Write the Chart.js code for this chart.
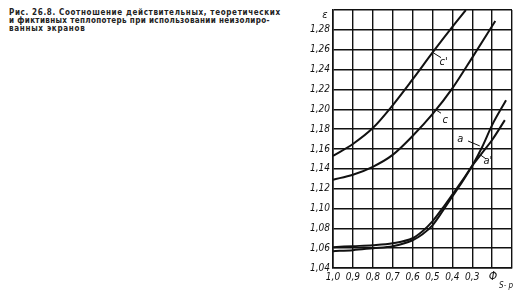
<!DOCTYPE html>
<html>
<head>
<meta charset="utf-8">
<script src="https://cdn.jsdelivr.net/npm/chart.js@4.4.1/dist/chart.umd.min.js"></script>
<style>
  html, body { margin: 0; padding: 0; background: #fff; }
  body { width: 522px; height: 292px; position: relative; overflow: hidden; }
  #caption {
    position: absolute; left: 9px; top: 9px; width: 290px;
    font: bold 8px 'DejaVu Sans Condensed', 'DejaVu Sans', sans-serif;
    line-height: 8px; color: #222; white-space: nowrap;
  }
  #caption div { display: block; }
  #wrap { position: absolute; left: 290px; top: 0; width: 232px; height: 292px; }
</style>
</head>
<body>
<div id="caption">
  <div style="letter-spacing:0.65px">Рис. 26.8. Соотношение действительных, теоретических</div>
  <div style="letter-spacing:0.35px">и фиктивных теплопотерь при использовании неизолиро-</div>
  <div style="letter-spacing:0.7px">ванных экранов</div>
</div>
<div id="wrap"><canvas id="chart"></canvas></div>
<script>
// x axis: Φ(S-p), runs from 1,0 on the left to 0,1 on the right
const xTicks = [1.0, 0.9, 0.8, 0.7, 0.6, 0.5, 0.4, 0.3, 0.2, 0.1];
const yTicks = [1.04, 1.06, 1.08, 1.10, 1.12, 1.14, 1.16, 1.18, 1.20, 1.22, 1.24, 1.26, 1.28, 1.30];

// curve c'
const phiC1 = [1.0, 0.9, 0.8, 0.7, 0.6, 0.5, 0.4, 0.332];
const epsC1 = [1.153, 1.165, 1.181, 1.204, 1.230, 1.257, 1.283, 1.300];
// curve c
const phiC = [1.0, 0.9, 0.8, 0.7, 0.6, 0.5, 0.4, 0.3, 0.184];
const epsC = [1.129, 1.134, 1.142, 1.154, 1.173, 1.195, 1.221, 1.252, 1.289];
// curve a
const phiA = [1.0, 0.9, 0.8, 0.7, 0.6, 0.55, 0.5, 0.45, 0.4, 0.35, 0.3, 0.25, 0.2, 0.13];
const epsA = [1.057, 1.058, 1.060, 1.062, 1.068, 1.074, 1.083, 1.097, 1.112, 1.127, 1.143, 1.162, 1.184, 1.209];
// curve a'
const phiA1 = [1.0, 0.9, 0.8, 0.7, 0.6, 0.55, 0.5, 0.45, 0.4, 0.35, 0.3, 0.25, 0.2, 0.136];
const epsA1 = [1.061, 1.062, 1.063, 1.065, 1.070, 1.077, 1.087, 1.100, 1.114, 1.128, 1.143, 1.156, 1.169, 1.189];

// curve labels with leader lines, in data units: [text, label x, label y, leader from x/y, leader to x/y]
const curveLabels = [
  ["c'", 0.444, 1.247, 0.497, 1.257, 0.457, 1.252],
  ['c',  0.436, 1.189, 0.488, 1.200, 0.457, 1.196],
  ['a',  0.360, 1.170, 0.321, 1.168, 0.262, 1.163],
  ["a'", 0.221, 1.148, 0.259, 1.154, 0.231, 1.150]
];

function pts(xs, ys) { return xs.map((x, i) => ({ x: x, y: ys[i] })); }
function comma(v, d) { return Number(v).toFixed(d).replace('.', ','); }

const tickFont = { family: "'Liberation Sans Narrow', 'DejaVu Sans Condensed', sans-serif", size: 10, style: 'italic' };

const labelsPlugin = {
  id: 'labels',
  afterDraw(chart) {
    const c = chart.ctx, xs = chart.scales.x, ys = chart.scales.y;
    c.save();
    c.fillStyle = '#111';
    c.strokeStyle = '#111';
    c.lineWidth = 1;
    c.textAlign = 'center';
    c.textBaseline = 'middle';
    c.font = "italic 11px 'Liberation Sans Narrow', 'DejaVu Sans Condensed', sans-serif";
    curveLabels.forEach(l => {
      c.beginPath();
      c.moveTo(xs.getPixelForValue(l[3]), ys.getPixelForValue(l[4]));
      c.lineTo(xs.getPixelForValue(l[5]), ys.getPixelForValue(l[6]));
      c.stroke();
      c.fillText(l[0], xs.getPixelForValue(l[1]), ys.getPixelForValue(l[2]));
    });
    // axis names
    c.fillText('ε', ys.right - 8, ys.getPixelForValue(1.30) + 5);
    const px = xs.getPixelForValue(0.2);
    c.font = "italic 12px 'DejaVu Sans Condensed', sans-serif";
    c.fillText('Φ', px + 1, xs.top + 9);
    c.font = "italic 8px 'DejaVu Sans Condensed', sans-serif";
    c.textAlign = 'left';
    c.fillText('S- p', px + 7, xs.top + 18);
    c.restore();
  }
};

new Chart(document.getElementById('chart'), {
  type: 'line',
  data: {
    datasets: [
      { label: "c'", data: pts(phiC1, epsC1) },
      { label: 'c',  data: pts(phiC, epsC) },
      { label: 'a',  data: pts(phiA, epsA) },
      { label: "a'", data: pts(phiA1, epsA1) }
    ].map(d => Object.assign(d, {
      borderColor: '#111', borderWidth: 2, pointRadius: 0,
      cubicInterpolationMode: 'monotone', fill: false
    }))
  },
  options: {
    responsive: true,
    maintainAspectRatio: false,
    animation: false,
    layout: { padding: { top: 10, right: 10, left: 0, bottom: 0 } },
    plugins: { legend: { display: false }, tooltip: { enabled: false } },
    scales: {
      x: {
        type: 'linear', reverse: true, min: 0.1, max: 1.0,
        afterBuildTicks: s => { s.ticks = xTicks.map(v => ({ value: v })); },
        afterFit: s => { s.height = 24; },
        grid: { color: '#111', lineWidth: 1.4, drawTicks: false },
        border: { color: '#111', width: 1.6 },
        ticks: {
          color: '#111', font: tickFont, padding: 3, maxRotation: 0, autoSkip: false,
          callback: v => (v < 0.25 ? '' : comma(v, 1))
        }
      },
      y: {
        type: 'linear', min: 1.04, max: 1.30,
        afterBuildTicks: s => { s.ticks = yTicks.map(v => ({ value: v })); },
        afterFit: s => { s.width = 43; },
        grid: { color: '#111', lineWidth: 1.4, drawTicks: false },
        border: { color: '#111', width: 1.6 },
        ticks: {
          color: '#111', font: tickFont, padding: 3, autoSkip: false,
          callback: v => (v > 1.29 ? '' : comma(v, 2))
        }
      }
    }
  },
  plugins: [labelsPlugin]
});
</script>
</body>
</html>
